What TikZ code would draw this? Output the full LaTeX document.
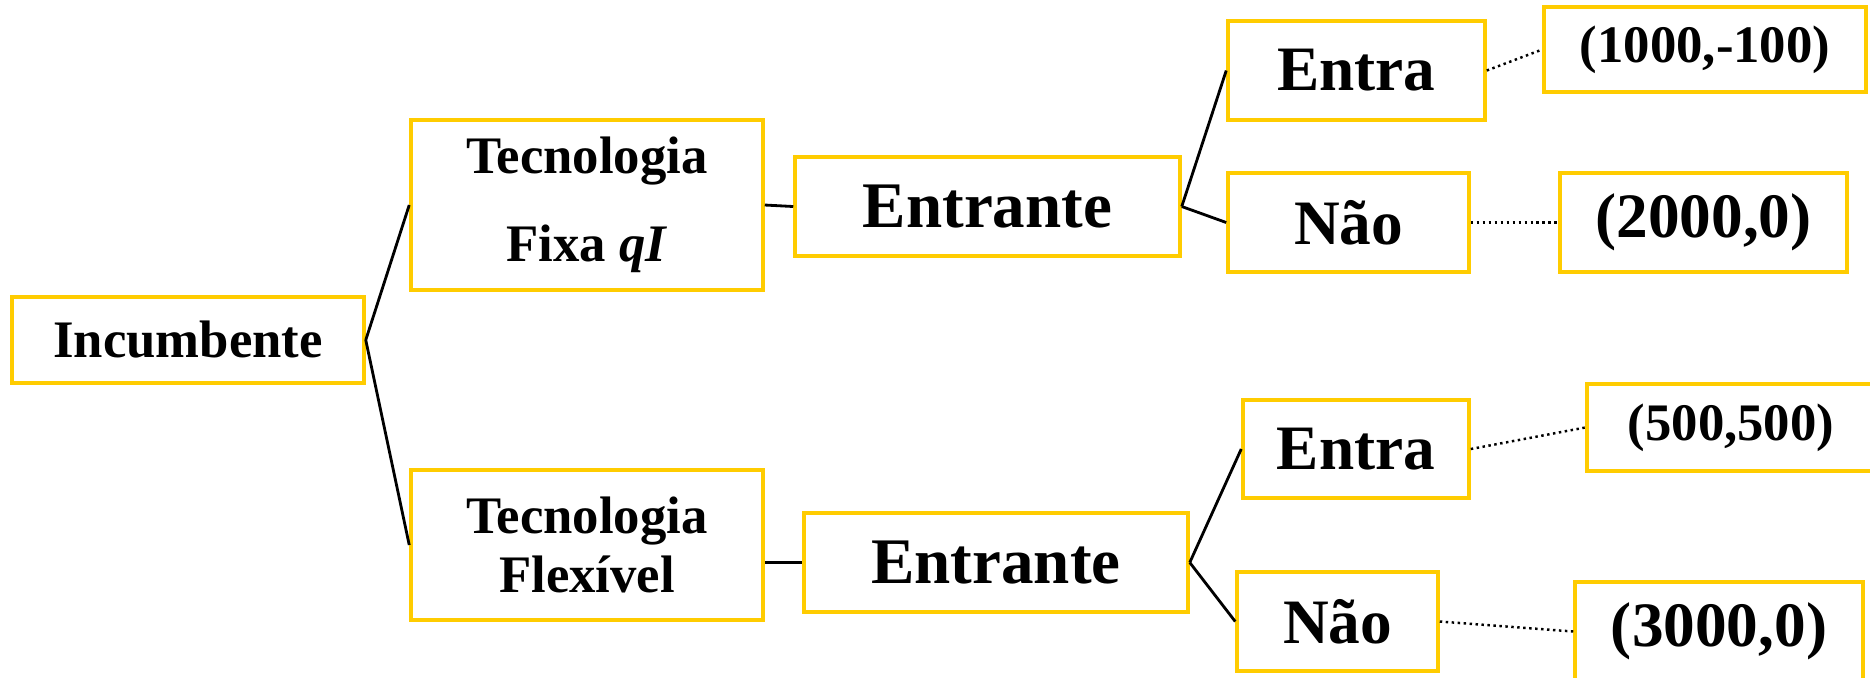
\documentclass[tikz,border=0pt]{standalone}
\usepackage{fontspec}
\setmainfont{Liberation Serif}
\definecolor{boxyellow}{RGB}{255,204,0}

\begin{document}
\begin{tikzpicture}[
  thick, % solid branches
  box/.style={draw=boxyellow,line width=1pt,fill=white,inner sep=0pt,align=center}, % every box of the tree
  mid node/.style={box,font=\fontsize{15}{17}\selectfont\bfseries}, % players and technologies
  big node/.style={box,font=\fontsize{18.5}{21}\selectfont\bfseries}, % second mover
  act node/.style={box,font=\fontsize{18}{20}\selectfont\bfseries}, % actions and payoffs
  pay/.style={densely dotted,line width=0.7pt} % link to the payoffs
  ]
  \useasboundingbox (0,0) rectangle (18.7,-6.77);

  \node[mid node,minimum width=3.52cm,minimum height=0.86cm] (I) at (1.88,-3.40) {Incumbente};
  \node[mid node,minimum width=3.52cm,minimum height=1.70cm] (TF) at (5.87,-2.05) {Tecnologia\\[8pt]Fixa \textit{qI}};
  \node[mid node,minimum width=3.52cm,minimum height=1.50cm] (TX) at (5.87,-5.45) {Tecnologia\\Flexível};

  \node[big node,minimum width=3.85cm,minimum height=0.99cm] (E1) at (9.875,-2.065) {Entrante};
  \node[big node,minimum width=3.84cm,minimum height=0.99cm] (E2) at (9.96,-5.625) {Entrante};

  \node[act node,minimum width=2.57cm,minimum height=0.99cm] (A1) at (13.565,-0.705) {Entra};
  \node[act node,minimum width=2.41cm,minimum height=0.99cm] (N1) at (13.485,-2.225) {Não};
  \node[act node,minimum width=2.26cm,minimum height=0.98cm] (A2) at (13.56,-4.49) {Entra};
  \node[act node,minimum width=2.01cm,minimum height=0.99cm] (N2) at (13.375,-6.215) {Não};

  \node[mid node,minimum width=3.22cm,minimum height=0.85cm] (P1) at (17.05,-0.495) {(1000,-100)};
  \node[act node,minimum width=2.87cm,minimum height=0.99cm] (P2) at (17.035,-2.225) {(2000,0)};
  \node[mid node,minimum width=2.88cm,minimum height=0.87cm] (P3) at (17.31,-4.275) {(500,500)};
  \node[act node,minimum width=2.88cm,minimum height=0.99cm] (P4) at (17.19,-6.315) {(3000,0)};

  \path
    (I.east) edge (TF.west)
    (I.east) edge (TX.west)
    (TF.east) edge (E1.west)
    (TX.east |- E2.west) edge (E2.west)
    (E1.east) edge (A1.west)
    (E1.east) edge (N1.west)
    (E2.east) edge (A2.west)
    (E2.east) edge (N2.west);

  \path
    (A1.east) edge[pay] (P1.west)
    (N1.east) edge[pay] (P2.west)
    (A2.east) edge[pay] (P3.west)
    (N2.east) edge[pay] (P4.west);
\end{tikzpicture}
\end{document}
